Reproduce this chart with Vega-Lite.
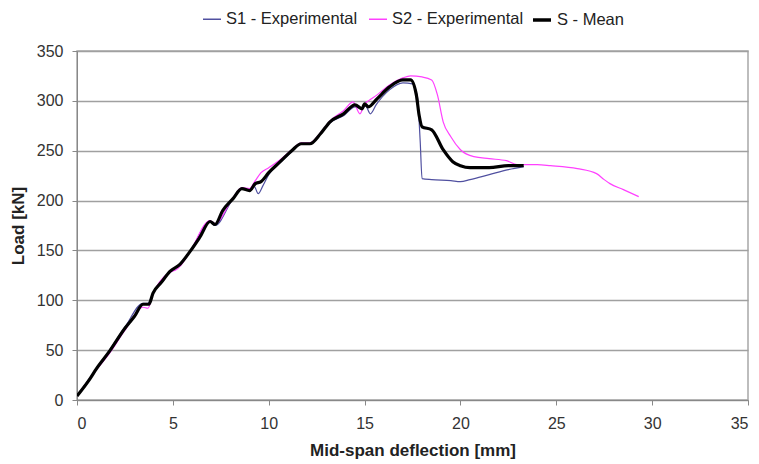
{
  "$schema": "https://vega.github.io/schema/vega-lite/v6.json",
  "width": 671,
  "height": 349,
  "autosize": "none",
  "padding": {"left": 77, "top": 51, "right": 11, "bottom": 64},
  "background": "white",
  "config": {
    "font": "Liberation Sans",
    "view": {"stroke": "#a8a8a8", "strokeWidth": 1.5},
    "axis": {"labelFont": "Liberation Sans", "titleFont": "Liberation Sans", "labelFontSize": 16, "labelColor": "#333333", "titleFontSize": 17, "titleColor": "#222222", "titleFontWeight": "bold", "domainColor": "#888888", "tickColor": "#888888", "tickSize": 5},
    "legend": {"orient": "none", "direction": "horizontal", "symbolType": "stroke", "symbolSize": 324, "labelFontSize": 16.5, "labelFont": "Liberation Sans", "labelColor": "#222222", "columnPadding": 8, "labelOffset": 4, "title": null}
  },
  "data": {"values": [
    {"series":"S1 - Experimental","x":0,"y":4},{"series":"S1 - Experimental","x":1.0,"y":31},{"series":"S1 - Experimental","x":1.7,"y":50},{"series":"S1 - Experimental","x":2.5,"y":73},{"series":"S1 - Experimental","x":3.44,"y":97},{"series":"S1 - Experimental","x":3.7,"y":97},{"series":"S1 - Experimental","x":3.96,"y":107},{"series":"S1 - Experimental","x":4.85,"y":129},{"series":"S1 - Experimental","x":5.37,"y":136},{"series":"S1 - Experimental","x":5.9,"y":149},{"series":"S1 - Experimental","x":6.94,"y":179},{"series":"S1 - Experimental","x":7.2,"y":175},{"series":"S1 - Experimental","x":8.14,"y":202},{"series":"S1 - Experimental","x":8.6,"y":212},{"series":"S1 - Experimental","x":9.0,"y":210},{"series":"S1 - Experimental","x":9.25,"y":214},{"series":"S1 - Experimental","x":9.45,"y":207},{"series":"S1 - Experimental","x":9.7,"y":215},{"series":"S1 - Experimental","x":10.0,"y":226},{"series":"S1 - Experimental","x":10.6,"y":238},{"series":"S1 - Experimental","x":11.2,"y":249},{"series":"S1 - Experimental","x":11.7,"y":257},{"series":"S1 - Experimental","x":12.15,"y":257},{"series":"S1 - Experimental","x":12.7,"y":267},{"series":"S1 - Experimental","x":13.2,"y":278},{"series":"S1 - Experimental","x":13.9,"y":285},{"series":"S1 - Experimental","x":14.5,"y":294},{"series":"S1 - Experimental","x":14.87,"y":292},{"series":"S1 - Experimental","x":15.05,"y":295},{"series":"S1 - Experimental","x":15.3,"y":287},{"series":"S1 - Experimental","x":15.6,"y":296},{"series":"S1 - Experimental","x":16.3,"y":311},{"series":"S1 - Experimental","x":17.0,"y":318},{"series":"S1 - Experimental","x":17.5,"y":317},{"series":"S1 - Experimental","x":17.75,"y":305},{"series":"S1 - Experimental","x":17.9,"y":260},{"series":"S1 - Experimental","x":18.0,"y":222},{"series":"S1 - Experimental","x":18.5,"y":221},{"series":"S1 - Experimental","x":19.5,"y":220},{"series":"S1 - Experimental","x":20.0,"y":219},{"series":"S1 - Experimental","x":20.5,"y":221},{"series":"S1 - Experimental","x":21.5,"y":226},{"series":"S1 - Experimental","x":22.5,"y":231},{"series":"S1 - Experimental","x":23.3,"y":234},
    {"series":"S2 - Experimental","x":0,"y":4},{"series":"S2 - Experimental","x":1.0,"y":30},{"series":"S2 - Experimental","x":1.7,"y":47},{"series":"S2 - Experimental","x":2.5,"y":70},{"series":"S2 - Experimental","x":3.44,"y":93},{"series":"S2 - Experimental","x":3.7,"y":92},{"series":"S2 - Experimental","x":3.96,"y":106},{"series":"S2 - Experimental","x":4.85,"y":128},{"series":"S2 - Experimental","x":5.2,"y":131},{"series":"S2 - Experimental","x":5.37,"y":134},{"series":"S2 - Experimental","x":5.9,"y":149},{"series":"S2 - Experimental","x":6.94,"y":180},{"series":"S2 - Experimental","x":7.2,"y":177},{"series":"S2 - Experimental","x":8.14,"y":203},{"series":"S2 - Experimental","x":8.6,"y":213},{"series":"S2 - Experimental","x":9.0,"y":212},{"series":"S2 - Experimental","x":9.3,"y":220},{"series":"S2 - Experimental","x":9.6,"y":228},{"series":"S2 - Experimental","x":10.0,"y":233},{"series":"S2 - Experimental","x":10.6,"y":241},{"series":"S2 - Experimental","x":11.2,"y":251},{"series":"S2 - Experimental","x":11.7,"y":258},{"series":"S2 - Experimental","x":12.15,"y":258},{"series":"S2 - Experimental","x":12.7,"y":268},{"series":"S2 - Experimental","x":13.2,"y":280},{"series":"S2 - Experimental","x":13.9,"y":290},{"series":"S2 - Experimental","x":14.4,"y":299},{"series":"S2 - Experimental","x":14.76,"y":287},{"series":"S2 - Experimental","x":15.0,"y":297},{"series":"S2 - Experimental","x":15.2,"y":300},{"series":"S2 - Experimental","x":15.65,"y":306},{"series":"S2 - Experimental","x":16.3,"y":316},{"series":"S2 - Experimental","x":17.0,"y":323},{"series":"S2 - Experimental","x":17.4,"y":325},{"series":"S2 - Experimental","x":18.0,"y":324},{"series":"S2 - Experimental","x":18.5,"y":321},{"series":"S2 - Experimental","x":18.8,"y":306},{"series":"S2 - Experimental","x":19.1,"y":279},{"series":"S2 - Experimental","x":19.5,"y":264},{"series":"S2 - Experimental","x":20.0,"y":251},{"series":"S2 - Experimental","x":20.7,"y":244},{"series":"S2 - Experimental","x":21.5,"y":242},{"series":"S2 - Experimental","x":22.4,"y":240},{"series":"S2 - Experimental","x":22.95,"y":236},{"series":"S2 - Experimental","x":24.0,"y":236},{"series":"S2 - Experimental","x":24.7,"y":235},{"series":"S2 - Experimental","x":26.1,"y":232},{"series":"S2 - Experimental","x":27.1,"y":227},{"series":"S2 - Experimental","x":27.5,"y":221},{"series":"S2 - Experimental","x":27.8,"y":217},{"series":"S2 - Experimental","x":28.5,"y":211},{"series":"S2 - Experimental","x":29.3,"y":204},
    {"series":"S - Mean","x":0,"y":4},{"series":"S - Mean","x":0.7,"y":22},{"series":"S - Mean","x":1.0,"y":31},{"series":"S - Mean","x":1.7,"y":49},{"series":"S - Mean","x":2.5,"y":72},{"series":"S - Mean","x":3.0,"y":84},{"series":"S - Mean","x":3.44,"y":96},{"series":"S - Mean","x":3.75,"y":96},{"series":"S - Mean","x":3.96,"y":107},{"series":"S - Mean","x":4.4,"y":118},{"series":"S - Mean","x":4.85,"y":129},{"series":"S - Mean","x":5.37,"y":136},{"series":"S - Mean","x":5.9,"y":149},{"series":"S - Mean","x":6.4,"y":163},{"series":"S - Mean","x":6.94,"y":179},{"series":"S - Mean","x":7.2,"y":176},{"series":"S - Mean","x":7.6,"y":190},{"series":"S - Mean","x":8.14,"y":202},{"series":"S - Mean","x":8.6,"y":212},{"series":"S - Mean","x":9.0,"y":210},{"series":"S - Mean","x":9.3,"y":217},{"series":"S - Mean","x":9.6,"y":219},{"series":"S - Mean","x":10.0,"y":228},{"series":"S - Mean","x":10.6,"y":239},{"series":"S - Mean","x":11.2,"y":250},{"series":"S - Mean","x":11.7,"y":257},{"series":"S - Mean","x":12.15,"y":257},{"series":"S - Mean","x":12.7,"y":267},{"series":"S - Mean","x":13.2,"y":279},{"series":"S - Mean","x":13.9,"y":287},{"series":"S - Mean","x":14.5,"y":296},{"series":"S - Mean","x":14.87,"y":292},{"series":"S - Mean","x":15.0,"y":297},{"series":"S - Mean","x":15.2,"y":294},{"series":"S - Mean","x":15.65,"y":302},{"series":"S - Mean","x":16.3,"y":314},{"series":"S - Mean","x":17.0,"y":321},{"series":"S - Mean","x":17.4,"y":321},{"series":"S - Mean","x":17.7,"y":306},{"series":"S - Mean","x":17.85,"y":285},{"series":"S - Mean","x":18.0,"y":274},{"series":"S - Mean","x":18.5,"y":271},{"series":"S - Mean","x":19.1,"y":251},{"series":"S - Mean","x":19.6,"y":239},{"series":"S - Mean","x":20.0,"y":235},{"series":"S - Mean","x":20.5,"y":233},{"series":"S - Mean","x":21.5,"y":233},{"series":"S - Mean","x":22.5,"y":235},{"series":"S - Mean","x":23.3,"y":235}
  ]},
  "encoding": {
    "x": {"field": "x", "type": "quantitative", "scale": {"domain": [0, 35], "nice": false}, "axis": {"values": [0,5,10,15,20,25,30,35], "grid": false, "title": "Mid-span deflection [mm]", "titlePadding": 11, "labelPadding": 10}},
    "y": {"field": "y", "type": "quantitative", "scale": {"domain": [0, 350], "nice": false}, "axis": {"values": [0,50,100,150,200,250,300,350], "grid": true, "gridColor": "#a0a0a0", "gridWidth": 1.5, "title": "Load [kN]", "titlePadding": 9, "labelPadding": 9}}
  },
  "layer": [
    {"transform": [{"filter": "datum.series != 'S - Mean'"}],
     "mark": {"type": "line", "clip": true, "strokeWidth": 1.2, "interpolate": "monotone"},
     "encoding": {"color": {"field": "series", "type": "nominal", "scale": {"domain": ["S1 - Experimental", "S2 - Experimental"], "range": ["#5050a0", "#ff40ff"]}, "legend": {"legendX": 125, "legendY": -42, "symbolStrokeWidth": 1.5}}}},
    {"transform": [{"filter": "datum.series == 'S - Mean'"}],
     "mark": {"type": "line", "clip": true, "strokeWidth": 3.2, "interpolate": "monotone"},
     "encoding": {"color": {"field": "series", "type": "nominal", "scale": {"domain": ["S - Mean"], "range": ["#000000"]}, "legend": {"legendX": 454, "legendY": -42, "symbolStrokeWidth": 3.5}}}}
  ],
  "resolve": {"scale": {"color": "independent"}, "legend": {"color": "independent"}}
}
